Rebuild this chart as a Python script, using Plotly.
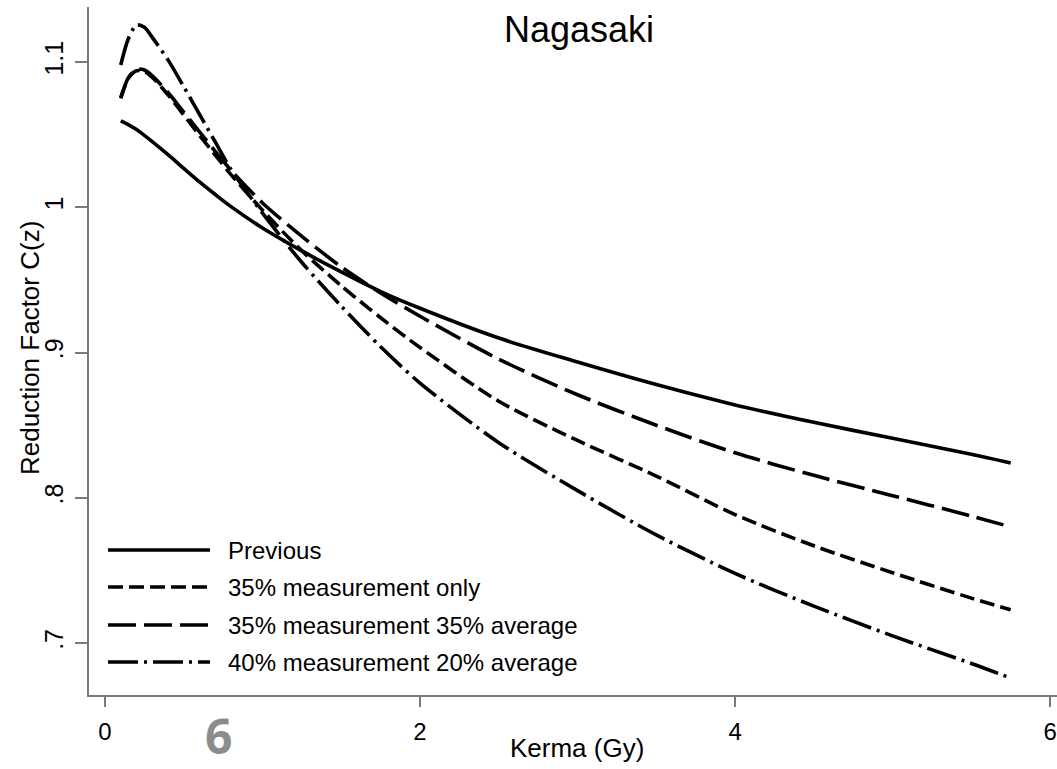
import plotly.graph_objects as go

# Kerma grid (Gy) and the reduction factor C(z) for each dosimetry assumption
kerma = [0.1, 0.15, 0.2, 0.25, 0.3, 0.4, 0.5, 0.6, 0.7, 0.8, 1.0, 1.25, 1.5,
         1.75, 2.0, 2.5, 3.0, 3.5, 4.0, 4.5, 5.0, 5.5, 5.75]

previous = [1.0595, 1.0568, 1.0535, 1.0495, 1.0452, 1.0362, 1.0268, 1.0175,
            1.0088, 1.0005, 0.9858, 0.9700, 0.9555, 0.9420, 0.9305, 0.9100,
            0.8935, 0.8780, 0.8640, 0.8520, 0.8410, 0.8300, 0.8240]

meas_35_only = [1.0750, 1.0890, 1.0940, 1.0935, 1.0895, 1.0775, 1.0635, 1.0495,
                1.0360, 1.0225, 0.9980, 0.9700, 0.9460, 0.9240, 0.9035, 0.8665,
                0.8395, 0.8150, 0.7885, 0.7670, 0.7485, 0.7310, 0.7230]

meas_35_avg_35 = [1.0755, 1.0895, 1.0950, 1.0945, 1.0905, 1.0790, 1.0655, 1.0520,
                  1.0385, 1.0255, 1.0030, 0.9800, 0.9590, 0.9410, 0.9250, 0.8955,
                  0.8710, 0.8500, 0.8310, 0.8155, 0.8015, 0.7875, 0.7800]

meas_40_avg_20 = [1.0980, 1.1165, 1.1255, 1.1240, 1.1170, 1.1015, 1.0830, 1.0640,
                  1.0450, 1.0260, 0.9960, 0.9620, 0.9320, 0.9040, 0.8790, 0.8380,
                  0.8050, 0.7745, 0.7480, 0.7255, 0.7050, 0.6860, 0.6760]

series_names = ["Previous", "35% measurement only",
                "35% measurement 35% average", "40% measurement 20% average"]
series_values = [previous, meas_35_only, meas_35_avg_35, meas_40_avg_20]
dash_styles = ["solid", "15px,6px", "28px,8px", "30px,6px,3px,6px"]

x_ticks = [0, 2, 4, 6]
y_ticks = [0.7, 0.8, 0.9, 1.0, 1.1]
y_ticktext = [".7", ".8", ".9", "1", "1.1"]

W, H = 1057, 769
ML, MR, MT, MB = 89, 0, 7, 74
FONT = "Liberation Sans, Arial, Helvetica, sans-serif"
AXIS_GRAY = "#7a7a7a"


def fx(p):
    """Horizontal pixel position -> paper fraction."""
    return (p - ML) / (W - ML - MR)


def fy(p):
    """Vertical pixel position (from top) -> paper fraction."""
    return 1 - (p - MT) / (H - MT - MB)


fig = go.Figure()
for name, vals, dash in zip(series_names, series_values, dash_styles):
    fig.add_trace(go.Scatter(
        x=kerma, y=vals, name=name, mode="lines",
        line=dict(color="black", width=3.6, dash=dash, shape="spline", smoothing=0.8),
        showlegend=False, hoverinfo="x+y+name",
    ))

# Legend drawn by hand so the sample lines can be long
legend_rows = [550, 587, 625, 662]
shapes = []
annotations = []
for name, dash, row in zip(series_names, dash_styles, legend_rows):
    shapes.append(dict(
        type="line", xref="paper", yref="paper",
        x0=fx(108), x1=fx(210), y0=fy(row), y1=fy(row),
        line=dict(color="black", width=3.6, dash=dash),
    ))
    annotations.append(dict(
        xref="paper", yref="paper", x=fx(226), y=fy(row),
        xanchor="left", yanchor="middle", showarrow=False, text=name,
        font=dict(family=FONT, size=24, color="black"),
    ))

annotations += [
    dict(xref="paper", yref="paper", x=fx(579), y=fy(29), xanchor="center",
         yanchor="middle", showarrow=False, text="Nagasaki",
         font=dict(family=FONT, size=36, color="black")),
    dict(xref="paper", yref="paper", x=fx(30), y=fy(348), xanchor="center",
         yanchor="middle", showarrow=False, text="Reduction Factor C(z)",
         textangle=-90, font=dict(family=FONT, size=26, color="black")),
    dict(xref="paper", yref="paper", x=fx(577), y=fy(748), xanchor="center",
         yanchor="middle", showarrow=False, text="Kerma (Gy)",
         font=dict(family=FONT, size=26, color="black")),
    dict(xref="paper", yref="paper", x=fx(218), y=fy(735), xanchor="center",
         yanchor="middle", showarrow=False, text="<b>6</b>",
         font=dict(family="Open Sans, sans-serif", size=48, color="#8c8c8c")),
]

fig.update_layout(
    width=W, height=H,
    margin=dict(l=ML, r=MR, t=MT, b=MB, pad=0),
    paper_bgcolor="white", plot_bgcolor="white",
    showlegend=False,
    shapes=shapes, annotations=annotations,
    font=dict(family=FONT, color="black"),
)
fig.update_xaxes(
    range=[-0.1016, 6.044], tickmode="array", tickvals=x_ticks,
    ticks="outside", ticklen=10, tickwidth=1.5, tickcolor=AXIS_GRAY,
    showline=True, linecolor=AXIS_GRAY, linewidth=1.5,
    showgrid=False, zeroline=False, tickfont=dict(family=FONT, size=24),
    ticklabelstandoff=4, ticklabeloverflow="allow",
)
fig.update_yaxes(
    range=[0.6643, 1.1379], tickmode="array", tickvals=y_ticks, ticktext=y_ticktext,
    tickangle=-90, ticks="outside", ticklen=12, tickwidth=1.5, tickcolor=AXIS_GRAY,
    showline=True, linecolor=AXIS_GRAY, linewidth=1.5,
    showgrid=False, zeroline=False, tickfont=dict(family=FONT, size=25),
    ticklabelstandoff=2,
)

fig.write_html("out.html")
